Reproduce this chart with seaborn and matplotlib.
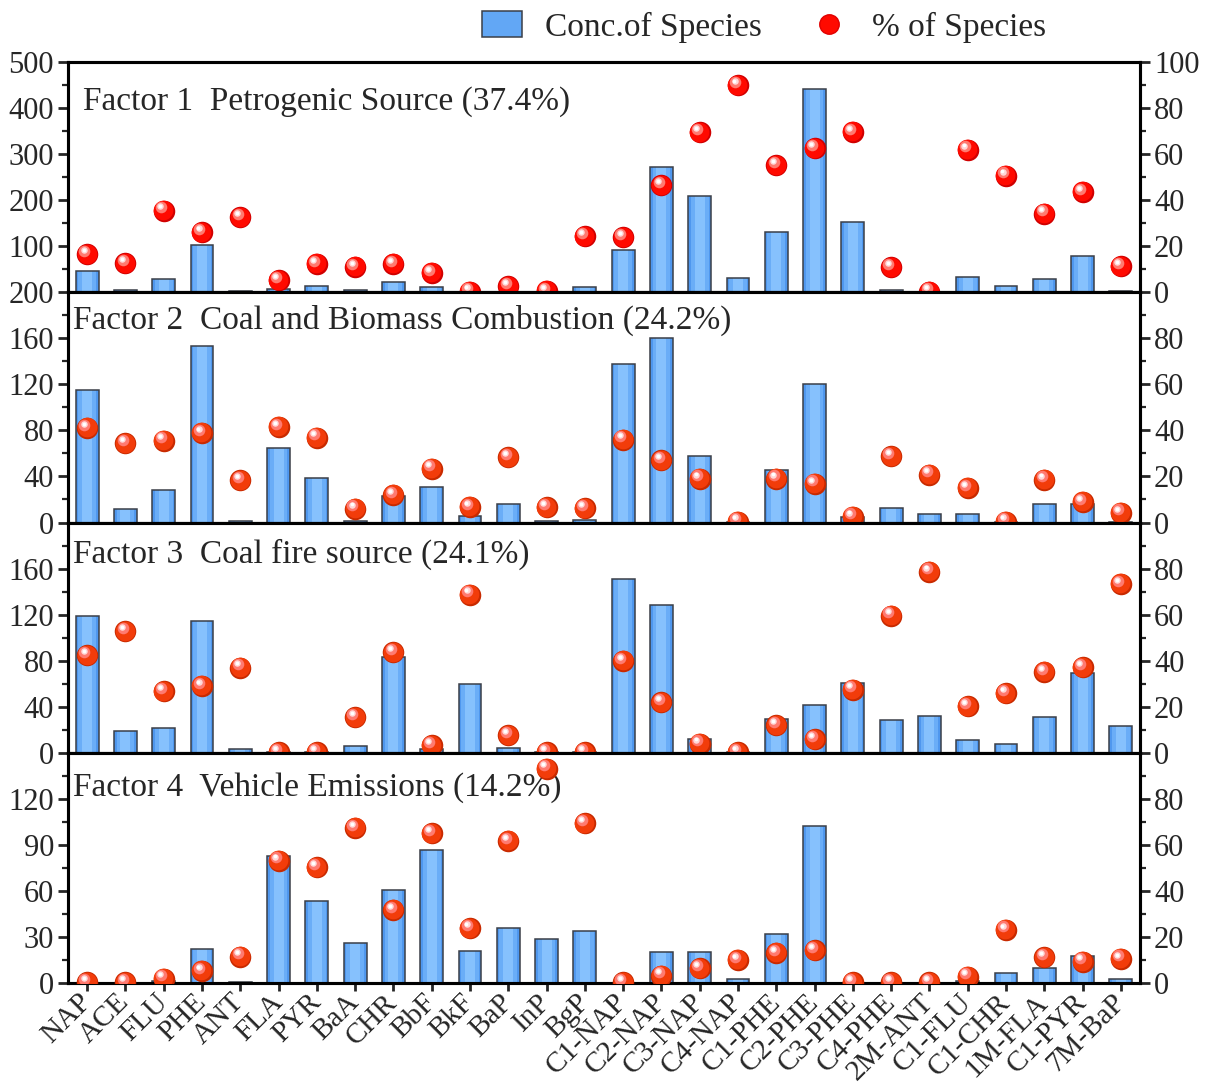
import numpy as np
import pandas as pd
import matplotlib
matplotlib.use("Agg")
import matplotlib.pyplot as plt
import matplotlib.transforms as mtransforms
from matplotlib.patches import Patch
from matplotlib.lines import Line2D
import seaborn as sns

species = ["NAP", "ACE", "FLU", "PHE", "ANT", "FLA", "PYR", "BaA", "CHR", "BbF", "BkF",
           "BaP", "InP", "BgP", "C1-NAP", "C2-NAP", "C3-NAP", "C4-NAP", "C1-PHE", "C2-PHE",
           "C3-PHE", "C4-PHE", "2M-ANT", "C1-FLU", "C1-CHR", "1M-FLA", "C1-PYR", "7M-BaP"]

titles = ["Factor 1  Petrogenic Source (37.4%)",
          "Factor 2  Coal and Biomass Combustion (24.2%)",
          "Factor 3  Coal fire source (24.1%)",
          "Factor 4  Vehicle Emissions (14.2%)"]

conc_f1 = [47, 4, 28, 102, 3, 8, 13, 4, 23, 11, 1, 1, 0.5, 12,
           91, 271, 208, 31, 131, 441, 153, 5, 0.5, 34, 14.5, 29, 79, 3]
pct_f1 = [16.5, 12.5, 35.5, 26, 32.5, 5.2, 12.3, 11, 12.3, 8.4, 0.3, 2.6, 0.6, 24.3,
          23.8, 46.5, 69.4, 89.9, 55.2, 62.5, 69.6, 10.9, 0.3, 61.9, 50.6, 34.2, 43.6, 11.2]

conc_f2 = [115.4, 11.6, 28.2, 152.9, 1.5, 64.8, 39, 1.7, 23, 30.8, 5.5, 16.3, 1.5, 2.3,
           137.8, 160.2, 57.8, 0.3, 45.6, 120, 5, 13, 7.8, 7.8, 0.5, 16, 16, 0.5]
pct_f2 = [41.1, 34.4, 35.6, 38.9, 18.3, 41.5, 36.9, 6, 12, 23.4, 6.8, 28.3, 6.7, 6.1,
          36, 27.1, 19, 0.4, 19, 16.8, 2.5, 28.7, 20.8, 15, 0.4, 18.6, 8.9, 4.2]

conc_f3 = [118.6, 18.6, 21.2, 114.5, 3.5, 0.3, 0.3, 5.5, 82.9, 3.5, 59.7, 3.8, 0.3, 0.3,
           151.3, 128.4, 12.2, 0.3, 29, 41.7, 60.3, 28.1, 31.6, 11, 7.5, 30.7, 69, 22.9]
pct_f3 = [42.3, 52.8, 26.7, 29, 37, 0.3, 0.3, 15.5, 43.6, 3.3, 68.7, 7.5, 0.3, 0.3,
          39.9, 22, 3.9, 0.3, 11.9, 5.8, 27.4, 59.6, 78.6, 20.1, 25.8, 35.1, 37.2, 73.3]

conc_f4 = [0.2, 0.2, 1.1, 22, 0.7, 82.5, 53.5, 25.8, 60.5, 86.5, 20.7, 36, 28.6, 34.1,
           0.3, 19.9, 19.9, 2.8, 31.7, 102.2, 0.1, 0.1, 0.1, 1, 6.3, 9.6, 17.7, 2.8]
pct_f4 = [0.3, 0.3, 1.9, 5.2, 11.5, 53.1, 50.3, 67.3, 31.7, 65, 23.7, 61.7, 93.1, 69.4,
          0.3, 3.2, 6.4, 10, 13.1, 14.3, 0.3, 0.3, 0.3, 2.8, 23.1, 11.1, 9.3, 10.5]

conc_all = [conc_f1, conc_f2, conc_f3, conc_f4]
pct_all = [pct_f1, pct_f2, pct_f3, pct_f4]

left_lims = [500, 200, 200, 150]
left_ticks = [[100, 200, 300, 400, 500], [0, 40, 80, 120, 160, 200],
              [0, 40, 80, 120, 160], [0, 30, 60, 90, 120]]
left_minor = [[50, 150, 250, 350, 450], [20, 60, 100, 140, 180],
              [20, 60, 100, 140, 180], [15, 45, 75, 105, 135]]
right_ticks = [[0, 20, 40, 60, 80, 100], [0, 20, 40, 60, 80],
               [0, 20, 40, 60, 80], [0, 20, 40, 60, 80]]
right_minor = [10, 30, 50, 70, 90]
title_pos = [(0.014, 0.826), (0.005, 0.878), (0.005, 0.862), (0.005, 0.847)]
dot_colors = ["#ff0a00", "#f23c0a", "#f23c0a", "#f23c0a"]
dot_dark = ["#d00000", "#c82a00", "#c82a00", "#c82a00"]

sns.set_theme(style="white")
plt.rcParams["font.family"] = ["Liberation Serif", "DejaVu Serif"]

fig = plt.figure(figsize=(12.10, 10.84), dpi=100)
gs = fig.add_gridspec(4, 1, left=68 / 1210, right=1140 / 1210,
                      top=1 - 62 / 1084, bottom=1 - 983 / 1084, hspace=0)
FS = 22
pos = np.arange(len(species))

axes = []
for i in range(4):
    ax = fig.add_subplot(gs[i, 0], sharex=axes[0] if axes else None)
    axes.append(ax)
    df = pd.DataFrame({"species": species, "conc": conc_all[i], "pct": pct_all[i], "pos": pos})
    # gradient-like bars
    sns.barplot(data=df, x="species", y="conc", order=species, width=0.6,
                color="#4f97ee", saturation=1, errorbar=None, ax=ax, linewidth=0)
    sns.barplot(data=df, x="species", y="conc", order=species, width=0.46,
                color="#6aadf7", saturation=1, errorbar=None, ax=ax, linewidth=0)
    sns.barplot(data=df, x="species", y="conc", order=species, width=0.26,
                color="#86c1fd", saturation=1, errorbar=None, ax=ax, linewidth=0)
    sns.barplot(data=df, x="species", y="conc", order=species, width=0.6,
                fill=False, color="#3a3f48", errorbar=None, ax=ax, linewidth=1.1)
    ax.set_xlim(-0.5, len(species) - 0.5)
    ax.set_ylim(0, left_lims[i])
    ax.set_yticks(left_ticks[i])
    ax.set_yticks(left_minor[i], minor=True)
    ax.set_ylabel("")
    ax.set_xlabel("")
    ax.tick_params(axis="y", which="major", direction="out", length=7, width=2,
                   labelsize=FS, pad=3, left=True)
    ax.tick_params(axis="y", which="minor", direction="out", length=4, width=1.6, left=True)
    for sp in ax.spines.values():
        sp.set_linewidth(2.2)
        sp.set_color("black")
        sp.set_visible(True)

    ax2 = ax.twinx()
    base = ax2.transData
    layers = [
        (240, dot_dark[i], 0, 0),
        (200, dot_colors[i], -0.4, 0.4),
        (70, "#ff7a70", -2.0, 2.4),
        (22, "#ffd8d8", -2.5, 3.0),
        (7, "#ffffff", -2.6, 3.1),
    ]
    for s, c, dx, dy in layers:
        tr = mtransforms.offset_copy(base, fig=fig, x=dx, y=dy, units="points")
        sns.scatterplot(data=df, x="pos", y="pct", s=s, color=c, linewidth=0,
                        ax=ax2, transform=tr, legend=False, zorder=3)
    ax2.set_ylim(0, 100)
    ax2.set_yticks(right_ticks[i])
    ax2.set_yticks(right_minor, minor=True)
    ax2.set_ylabel("")
    ax2.set_xlabel("")
    ax2.tick_params(axis="y", which="major", direction="out", length=7, width=2,
                    labelsize=FS, pad=3, right=True)
    ax2.tick_params(axis="y", which="minor", direction="out", length=4, width=1.6, right=True)
    for sp in ax2.spines.values():
        sp.set_linewidth(2.2)
        sp.set_color("black")
    ax2.set_xlim(-0.5, len(species) - 0.5)

    ax.text(title_pos[i][0], title_pos[i][1], titles[i], transform=ax.transAxes,
            fontsize=24, ha="left", va="center", zorder=10)

    if i < 3:
        ax.tick_params(axis="x", which="both", bottom=False, labelbottom=False)
    ax.grid(False)
    ax2.grid(False)

axb = axes[-1]
axb.set_xticks(pos)
axb.set_xticklabels(species, rotation=45, ha="right", va="center",
                    rotation_mode="anchor", fontsize=21)
axb.tick_params(axis="x", which="major", direction="out", length=6, width=2, bottom=True,
                labelbottom=True, pad=5)

handles = [Patch(facecolor="#62a7f5", edgecolor="#3a3f48", linewidth=1.1),
           Line2D([0], [0], marker="o", linestyle="none", markersize=14,
                  markerfacecolor="#ff0a00", markeredgecolor="#e00000")]
fig.legend(handles, ["Conc.of Species", "% of Species"], loc="center left",
           bbox_to_anchor=(452 / 1210, 1 - 27 / 1084), ncol=2, frameon=False,
           fontsize=24, handlelength=1.2, handleheight=0.8, handletextpad=0.7,
           columnspacing=1.4)

fig.savefig("out.png", dpi=100)
